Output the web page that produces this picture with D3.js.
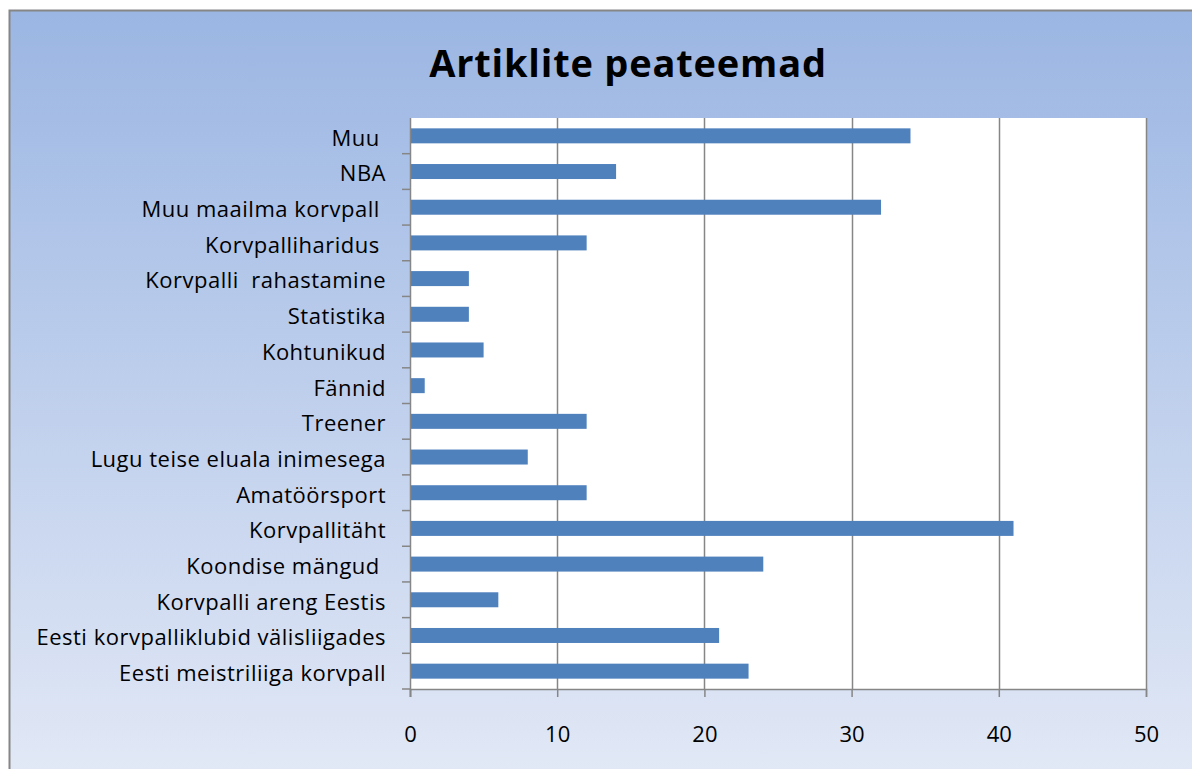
<!DOCTYPE html>
<html>
<head>
<meta charset="utf-8">
<script src="https://cdn.jsdelivr.net/npm/d3@7"></script>
<style>
  body { margin: 0; background: #fff; }
  text { font-family: "Open Sans", Lato, sans-serif; }
</style>
</head>
<body>
<div id="root"></div>
<script>
// categories from top to bottom
const categories = [
  "Muu ",
  "NBA",
  "Muu maailma korvpall ",
  "Korvpalliharidus ",
  "Korvpalli  rahastamine",
  "Statistika",
  "Kohtunikud",
  "Fännid",
  "Treener",
  "Lugu teise eluala inimesega",
  "Amatöörsport",
  "Korvpallitäht",
  "Koondise mängud ",
  "Korvpalli areng Eestis",
  "Eesti korvpalliklubid välisliigades",
  "Eesti meistriliiga korvpall"
];
const values = [34, 14, 32, 12, 4, 4, 5, 1, 12, 8, 12, 41, 24, 6, 21, 23];
const xTicks = [0, 10, 20, 30, 40, 50];
const title = "Artiklite peateemad";

const W = 1192, H = 769;
const plot = { left: 410, right: 1146, top: 118, bottom: 689 };

const svg = d3.select("#root").append("svg")
  .attr("width", W)
  .attr("height", H)
  .attr("viewBox", `0 0 ${W} ${H}`);

const grad = svg.append("defs").append("linearGradient")
  .attr("id", "bg")
  .attr("x1", 0).attr("y1", 0).attr("x2", 0).attr("y2", 1);
grad.append("stop").attr("offset", 0).attr("stop-color", "#9bb6e3");
grad.append("stop").attr("offset", 1).attr("stop-color", "#e3e9f6");

// chart frame
svg.append("rect")
  .attr("x", 9.5).attr("y", 10.5)
  .attr("width", W + 10).attr("height", H + 10)
  .attr("fill", "url(#bg)")
  .attr("stroke", "#868686")
  .attr("stroke-width", 2);

svg.append("rect")
  .attr("x", plot.left).attr("y", plot.top)
  .attr("width", plot.right - plot.left)
  .attr("height", plot.bottom - plot.top)
  .attr("fill", "#fff");

const x = d3.scaleLinear().domain([0, 50]).range([plot.left, plot.right]);
const y = d3.scaleBand().domain(categories).range([plot.top, plot.bottom]).paddingInner(0.58).paddingOuter(0.29);
const yRow = d3.scaleBand().domain(categories).range([plot.top, plot.bottom]);

// vertical gridlines
svg.append("g").selectAll("line")
  .data(xTicks.slice(1))
  .join("line")
  .attr("x1", d => Math.round(x(d)) + 0.5).attr("x2", d => Math.round(x(d)) + 0.5)
  .attr("y1", plot.top).attr("y2", plot.bottom)
  .attr("stroke", "#868686")
  .attr("stroke-width", 1.5);

// bars
svg.append("g").selectAll("rect")
  .data(categories)
  .join("rect")
  .attr("x", x(0))
  .attr("y", d => y(d))
  .attr("width", (d, i) => x(values[i]) - x(0))
  .attr("height", y.bandwidth())
  .attr("fill", "#4f81bd");

// x axis
const xAxis = svg.append("g")
  .attr("transform", `translate(0,${plot.bottom})`)
  .call(d3.axisBottom(x).tickValues(xTicks).tickSize(8).tickPadding(29).tickFormat(d3.format("d")));
xAxis.select(".domain").attr("stroke", "#868686").attr("stroke-width", 1.5);
xAxis.selectAll(".tick line").attr("stroke", "#868686").attr("stroke-width", 1.5);
xAxis.selectAll(".tick text")
  .attr("fill", "#000")
  .style("font-size", "22px")
  .style("font-family", "'Open Sans', sans-serif");

// y axis: tick marks on row boundaries, labels at centers
const yAxis = svg.append("g");
yAxis.append("line")
  .attr("x1", plot.left + 0.5).attr("x2", plot.left + 0.5)
  .attr("y1", plot.top).attr("y2", plot.bottom + 8)
  .attr("stroke", "#868686").attr("stroke-width", 1.5);
yAxis.selectAll("line.tk")
  .data(categories)
  .join("line")
  .attr("class", "tk")
  .attr("x1", plot.left - 8).attr("x2", plot.left)
  .attr("y1", d => yRow(d) + yRow.bandwidth()).attr("y2", d => yRow(d) + yRow.bandwidth())
  .attr("stroke", "#868686").attr("stroke-width", 1.5);
yAxis.selectAll("text")
  .data(categories)
  .join("text")
  .attr("x", 386)
  .attr("y", d => yRow(d) + yRow.bandwidth() / 2)
  .attr("dy", "0.45em")
  .attr("text-anchor", "end")
  .attr("xml:space", "preserve")
  .style("white-space", "pre")
  .style("font-size", "22px")
  .style("letter-spacing", "0.5px")
  .attr("fill", "#000")
  .text(d => d);

// title
svg.append("text")
  .attr("x", 628)
  .attr("y", 77)
  .attr("text-anchor", "middle")
  .style("font-size", "38px")
  .style("font-weight", "bold")
  .style("letter-spacing", "0.8px")
  .attr("fill", "#000")
  .text(title);
</script>
</body>
</html>
